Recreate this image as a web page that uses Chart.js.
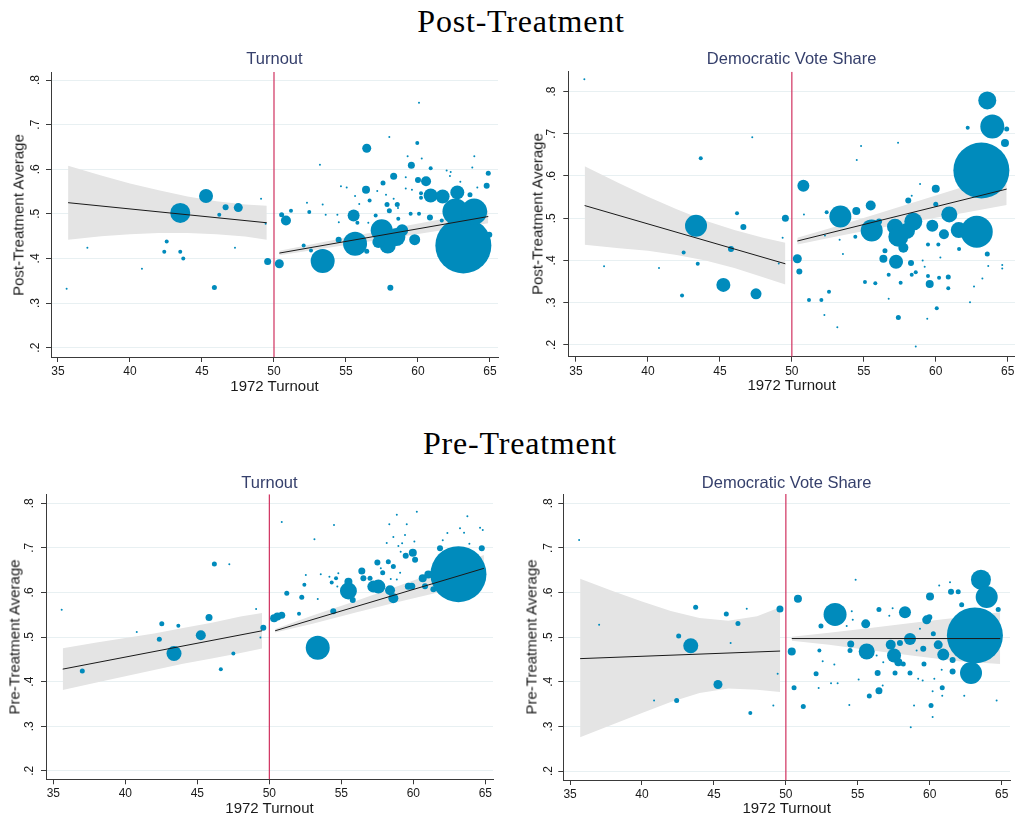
<!DOCTYPE html>
<html><head><meta charset="utf-8">
<script src="https://cdn.jsdelivr.net/npm/chart.js@4.4.1/dist/chart.umd.min.js"></script>
<style>
html,body{margin:0;padding:0;background:#fff}
body{width:1015px;height:818px;position:relative;overflow:hidden;font-family:"Liberation Sans",Arial,sans-serif}
canvas{position:absolute}
.t{position:absolute;white-space:nowrap;transform:translate(-50%,-50%);line-height:1}
.main{font-family:"Liberation Serif","Times New Roman",serif;font-size:32px;color:#000;letter-spacing:0.8px}
.sub{font-size:16.5px;color:#36406c}
.ax{font-size:15px;color:#1a1a1a}
.rot{transform:translate(-50%,-50%) rotate(-90deg)}
</style></head><body>
<script>
// ---------- shared axis data ----------
const xTicks = [35, 40, 45, 50, 55, 60, 65];
const xTickLabels = ['35', '40', '45', '50', '55', '60', '65'];
const yTicks = [0.2, 0.3, 0.4, 0.5, 0.6, 0.7, 0.8];
const yTickLabels = ['.2', '.3', '.4', '.5', '.6', '.7', '.8'];
const cutoff = 50;

// ---------- Post-Treatment : Turnout ----------
const postTurnX = [35.60,37.04,40.83,42.55,42.38,43.49,43.49,43.70,45.28,45.86,46.20,46.64,47.52,47.29,49.10,49.42,49.56,
 50.37,50.53,50.83,51.18,52.06,52.45,52.57,52.29,53.19,53.38,53.38,53.59,54.49,54.40,54.50,54.65,55.05,55.53,55.63,55.79,55.63,55.92,56.39,56.44,56.44,56.55,56.64,57.06,57.17,
 57.48,58.50,57.90,57.25,58.90,
 57.57,57.78,57.85,58.01,58.01,58.08,58.31,58.31,58.56,58.61,58.63,59.15,59.15,59.28,59.54,59.49,59.58,59.77,59.95,60.07,60.00,60.07,60.26,60.21,60.21,60.56,60.88,60.83,60.88,61.71,61.65,61.99,62.27,62.22,62.73,62.94,63.61,63.77,63.91,64.12,63.15,62.60,63.90,64.88,64.77,64.95];
const postTurnY = [0.332,0.424,0.377,0.438,0.415,0.502,0.415,0.400,0.540,0.335,0.498,0.515,0.514,0.424,0.534,0.478,0.393,
 0.388,0.498,0.485,0.507,0.429,0.504,0.418,0.525,0.610,0.394,0.521,0.498,0.442,0.498,0.481,0.562,0.559,0.496,0.433,0.480,0.540,0.522,0.554,0.647,0.416,0.480,0.530,0.496,0.551,
 0.463,0.448,0.429,0.437,0.463,
 0.569,0.543,0.521,0.672,0.507,0.334,0.584,0.534,0.521,0.513,0.489,0.582,0.557,0.629,0.609,0.500,0.554,0.442,0.659,0.749,0.576,0.500,0.624,0.546,0.536,0.573,0.541,0.492,0.602,0.539,0.485,0.597,0.594,0.585,0.548,0.572,0.543,0.604,0.629,0.559,0.429,0.505,0.505,0.591,0.563,0.453];
const postTurnW = [1,1,1,2,2,10,2,2,7,2.5,2,3,4.5,1,1,1,3.5,
 4.5,2.5,5,2,2,2,2,1,1,12,1,1,3,1,1,1,1,6,12,2,1,1,4,4.5,2.5,1,2,2,1,
 11,9,8,6,6,
 2.5,1,2.5,1,2.5,3,3.5,1,2.5,1,2,1,1,1,3.5,2,1,5.5,2,1,3,2,1,2,2,5,7,3,2,7,2,1,1,1,7,1,2.5,1,1,1,28,13,13,2.5,3,3];
const postTurnFitLeftX = [35.7, 49.5], postTurnFitLeftY = [0.525, 0.480];
const postTurnFitRightX = [50.37, 64.88], postTurnFitRightY = [0.412, 0.494];
const postTurnBandLeftX = [35.7, 38, 40, 42, 44, 46, 48, 49.5];
const postTurnBandLeftHi = [0.608, 0.586, 0.568, 0.553, 0.539, 0.528, 0.521, 0.518];
const postTurnBandLeftLo = [0.442, 0.450, 0.454, 0.457, 0.457, 0.454, 0.449, 0.442];
const postTurnBandRightX = [50.37, 53, 56, 59, 62, 64.88];
const postTurnBandRightHi = [0.417, 0.434, 0.453, 0.472, 0.490, 0.508];
const postTurnBandRightLo = [0.407, 0.420, 0.435, 0.450, 0.465, 0.479];

// ---------- Post-Treatment : Democratic Vote Share ----------
const postDemX = [35.58,36.95,40.77,42.37,42.48,43.34,43.46,43.67,45.24,45.77,46.19,46.63,47.25,47.51,49.09,49.36,49.55,
 50.38,50.52,50.80,50.84,51.19,52.05,52.26,52.42,52.30,52.58,53.16,53.37,53.32,53.55,54.48,54.41,54.51,54.81,55.08,55.48,55.55,55.80,56.06,56.47,56.36,56.73,56.73,
 57.17,57.40,58.00,58.44,57.75,57.24,
 57.38,57.40,57.56,58.28,58.09,58.33,58.33,58.61,58.61,58.91,59.09,59.23,59.41,59.46,59.58,59.46,59.76,60.00,60.00,60.07,60.18,60.23,60.32,60.57,60.87,60.87,60.94,61.62,61.60,62.85,62.22,62.38,62.66,63.24,63.17,63.58,63.58,63.93,64.81,64.93,64.62,64.62,63.65];
const postDemY = [0.829,0.386,0.382,0.317,0.419,0.482,0.392,0.642,0.342,0.427,0.512,0.479,0.692,0.321,0.393,0.454,0.500,
 0.404,0.374,0.577,0.509,0.306,0.306,0.271,0.514,0.459,0.326,0.242,0.504,0.449,0.415,0.517,0.456,0.638,0.671,0.349,0.530,0.471,0.346,0.492,0.423,0.404,0.366,0.309,
 0.480,0.456,0.470,0.492,0.430,0.397,
 0.679,0.265,0.347,0.394,0.542,0.553,0.366,0.372,0.196,0.581,0.400,0.385,0.262,0.363,0.344,0.438,0.482,0.570,0.533,0.287,0.438,0.359,0.407,0.462,0.361,0.334,0.509,0.427,0.472,0.468,0.714,0.301,0.338,0.357,0.613,0.415,0.779,0.717,0.678,0.711,0.389,0.381,0.387];
const postDemW = [1,1,1,2,2,11,2,2,7,3,2,3,1,5.5,1,1,3.5,
 4.5,3,6,1,2,2,1,2,1,2,1,11,1,1,4,2,1,1,2,5,11,2,3,2.5,4,2,1,
 8,10,8,9,5,7,
 1,2.5,2,3,3,1,2,2,1,1,1,1,1,2,4,2,6,4,2.5,2,2,2,1,5,2.5,2,8,2,8,16,2,1,1,1,28,2.5,9,12,4,2.5,1,1,1];
const postDemFitLeftX = [35.6, 49.55], postDemFitLeftY = [0.530, 0.392];
const postDemFitRightX = [50.38, 64.93], postDemFitRightY = [0.446, 0.569];
const postDemBandLeftX = [35.6, 38, 40, 42, 44, 46, 48, 49.55];
const postDemBandLeftHi = [0.623, 0.583, 0.551, 0.521, 0.494, 0.472, 0.454, 0.442];
const postDemBandLeftLo = [0.437, 0.429, 0.423, 0.413, 0.400, 0.382, 0.360, 0.343];
const postDemBandRightX = [50.38, 53, 56, 59, 62, 64.93];
const postDemBandRightHi = [0.454, 0.480, 0.511, 0.543, 0.575, 0.607];
const postDemBandRightLo = [0.438, 0.456, 0.476, 0.495, 0.513, 0.531];

// ---------- Pre-Treatment : Turnout ----------
const preTurnX = [35.58,37.01,40.79,42.36,42.53,43.38,43.68,45.24,45.81,46.18,46.63,47.22,47.50,49.08,49.38,49.58,
 50.33,50.56,50.86,50.86,51.21,52.06,52.25,52.43,52.53,53.13,53.36,53.36,53.57,54.17,54.33,54.63,54.79,54.49,54.72,54.44,55.49,55.49,55.79,56.42,56.53,56.99,57.22,57.57,57.50,57.74,57.87,58.26,58.38,58.61,58.61,58.15,58.33,58.61,58.85,58.96,59.12,59.22,59.42,59.47,59.54,59.96,60.07,60.24,60.12,59.08,58.43,58.85,59.65,59.89,60.65,60.81,61.39,61.85,62.04,62.36,63.24,63.52,63.75,63.89,64.63,64.82,64.40,64.75,63.13,61.04];
const preTurnY = [0.561,0.424,0.511,0.495,0.530,0.463,0.525,0.504,0.544,0.664,0.428,0.663,0.463,0.563,0.499,0.521,
 0.542,0.546,0.549,0.758,0.598,0.552,0.589,0.617,0.639,0.719,0.585,0.476,0.641,0.635,0.622,0.632,0.643,0.751,0.613,0.558,0.624,0.603,0.583,0.648,0.632,0.632,0.613,0.613,0.667,0.654,0.644,0.669,0.605,0.658,0.587,0.711,0.753,0.724,0.774,0.704,0.691,0.710,0.729,0.682,0.753,0.689,0.714,0.781,0.673,0.644,0.630,0.629,0.614,0.614,0.632,0.614,0.607,0.699,0.717,0.733,0.744,0.734,0.771,0.709,0.745,0.740,0.682,0.699,0.641,0.640];
const preTurnW = [1,2.5,1,2.5,2.5,7.5,2,5,3.5,2.5,2,1,2,1,1,3,
 4,4,3.5,1,2.5,2,2.5,2,1,1,1,12,1,1,2,2,1,1,1,3,4,8.5,3,3.5,3,2.5,6,7,3,1,2.5,2.5,5,2.5,5,1,1,1,1,1,1,1,1,3,1,4,1,1,3,1,1,1,3.5,3.5,4,3,3,3,1,1,1,1,1,1,1,1,1,3,28,4];
const preTurnFitLeftX = [35.65, 49.5], preTurnFitLeftY = [0.428, 0.514];
const preTurnFitRightX = [50.4, 64.9], preTurnFitRightY = [0.514, 0.654];
const preTurnBandLeftX = [35.65, 38, 40, 42, 44, 46, 48, 49.5];
const preTurnBandLeftHi = [0.475, 0.488, 0.498, 0.508, 0.520, 0.532, 0.546, 0.554];
const preTurnBandLeftLo = [0.381, 0.398, 0.412, 0.426, 0.440, 0.452, 0.464, 0.474];
const preTurnBandRightX = [50.4, 53, 56, 59, 62, 64.9];
const preTurnBandRightHi = [0.518, 0.548, 0.581, 0.615, 0.650, 0.684];
const preTurnBandRightLo = [0.510, 0.530, 0.555, 0.579, 0.602, 0.624];

// ---------- Pre-Treatment : Democratic Vote Share ----------
const preDemX = [35.63,37.02,40.84,42.41,42.55,43.39,43.73,45.28,45.86,46.16,46.67,47.28,47.53,49.13,49.43,49.59,
 50.41,50.57,50.84,51.21,52.10,52.28,52.33,52.44,52.56,53.14,53.37,53.60,53.42,54.41,54.46,54.51,54.58,54.23,54.65,54.85,55.06,55.55,55.62,55.80,56.31,56.38,56.47,56.47,56.77,56.73,57.19,57.42,57.29,57.52,57.82,57.59,57.93,58.28,58.16,58.63,58.63,58.91,58.68,59.09,59.20,59.32,59.55,59.60,59.51,59.79,59.97,60.02,60.09,60.20,60.20,60.25,60.32,60.59,60.87,60.94,60.83,60.87,60.66,61.41,61.48,61.59,61.59,61.98,62.22,62.40,63.14,62.87,63.56,63.96,64.76,64.65];
const preDemY = [0.718,0.528,0.358,0.358,0.503,0.481,0.567,0.394,0.552,0.487,0.531,0.564,0.330,0.347,0.418,0.563,
 0.468,0.387,0.586,0.345,0.418,0.386,0.470,0.525,0.446,0.397,0.439,0.397,0.551,0.348,0.470,0.485,0.558,0.525,0.539,0.629,0.405,0.530,0.468,0.368,0.459,0.420,0.562,0.380,0.444,0.392,0.548,0.565,0.483,0.459,0.444,0.420,0.487,0.556,0.440,0.420,0.496,0.347,0.298,0.470,0.407,0.519,0.474,0.440,0.403,0.539,0.545,0.591,0.347,0.321,0.379,0.508,0.407,0.483,0.387,0.461,0.427,0.369,0.616,0.623,0.602,0.449,0.423,0.602,0.573,0.369,0.504,0.420,0.629,0.590,0.562,0.358];
const preDemW = [1,1,1,2.5,2.5,7.5,2.5,4.5,2.5,1,2.5,1,2,1,1,3.5,
 4,2.5,4,2.5,2.5,1,2,2.5,1,1,1,1,11.5,1,2.5,3.5,1,1,1,1,1,4.5,8,2.5,1,3,2.5,3.5,1,1,1,1,5,7,4,2.5,3,6,2.5,2.5,6,1,1,1,1,1,3,2.5,1,4.5,3,4,2.5,1,1,2.5,1,4.5,2.5,6,1,1,1,1,3,3,3,2.5,2.5,1,28,11,10,11,2.5,1];
const preDemFitLeftX = [35.7, 49.6], preDemFitLeftY = [0.452, 0.469];
const preDemFitRightX = [50.41, 64.9], preDemFitRightY = [0.497, 0.497];
const preDemBandLeftX = [35.7, 38, 40, 42, 44, 46, 48, 49.6];
const preDemBandLeftHi = [0.631, 0.603, 0.580, 0.559, 0.543, 0.537, 0.547, 0.567];
const preDemBandLeftLo = [0.276, 0.305, 0.330, 0.355, 0.375, 0.385, 0.382, 0.377];
const preDemBandRightX = [50.41, 53, 56, 59, 62, 64.9];
const preDemBandRightHi = [0.501, 0.510, 0.521, 0.533, 0.544, 0.556];
const preDemBandRightLo = [0.492, 0.483, 0.470, 0.458, 0.446, 0.440];

// ---------- layout (positions only) ----------
const panels = [
  {box:[0,66,506,318], area:[51,72,498,357], xr:[34.514,65.556], yr:[0.179,0.818], tickOff:15,
   sub:'Turnout', ytitle:'Post-Treatment Average', subY:58, xtY:385, ytX:18,
   X:postTurnX, Y:postTurnY, W:postTurnW,
   fits:[[postTurnFitLeftX,postTurnFitLeftY],[postTurnFitRightX,postTurnFitRightY]],
   bands:[[postTurnBandLeftX,postTurnBandLeftHi,postTurnBandLeftLo],[postTurnBandRightX,postTurnBandRightHi,postTurnBandRightLo]]},
  {box:[510,66,505,318], area:[568.3,71.7,1015,356.7], xr:[34.465,65.507], yr:[0.172,0.847], tickOff:16.5,
   sub:'Democratic Vote Share', ytitle:'Post-Treatment Average', subY:58, xtY:384, ytX:536.7,
   X:postDemX, Y:postDemY, W:postDemW,
   fits:[[postDemFitLeftX,postDemFitLeftY],[postDemFitRightX,postDemFitRightY]],
   bands:[[postDemBandLeftX,postDemBandLeftHi,postDemBandLeftLo],[postDemBandRightX,postDemBandRightHi,postDemBandRightLo]]},
  {box:[0,488,501,330], area:[46,494.3,493,779.3], xr:[34.49,65.53], yr:[0.181,0.820], tickOff:16,
   sub:'Turnout', ytitle:'Pre-Treatment Average', subY:482, xtY:806.5, ytX:14,
   X:preTurnX, Y:preTurnY, W:preTurnW,
   fits:[[preTurnFitLeftX,preTurnFitLeftY],[preTurnFitRightX,preTurnFitRightY]],
   bands:[[preTurnBandLeftX,preTurnBandLeftHi,preTurnBandLeftLo],[preTurnBandRightX,preTurnBandRightHi,preTurnBandRightLo]]},
  {box:[505,488,510,330], area:[563.3,494,1010,780], xr:[34.53,65.58], yr:[0.180,0.821], tickOff:15,
   sub:'Democratic Vote Share', ytitle:'Pre-Treatment Average', subY:482, xtY:806.5, ytX:530.7,
   X:preDemX, Y:preDemY, W:preDemW,
   fits:[[preDemFitLeftX,preDemFitLeftY],[preDemFitRightX,preDemFitRightY]],
   bands:[[preDemBandLeftX,preDemBandLeftHi,preDemBandLeftLo],[preDemBandRightX,preDemBandRightHi,preDemBandRightLo]]}
];

const MARKER = '#008bbc', BAND = '#e4e4e4', FIT = '#1a1a1a', CUT = '#d0315f';
const GRID = '#e8f0f2', AXIS = '#3a3a3a', TXT = '#1a1a1a';

function addText(txt, cls, x, y) {
  const d = document.createElement('div');
  d.className = 't ' + cls;
  d.textContent = txt;
  d.style.left = x + 'px';
  d.style.top = y + 'px';
  document.body.appendChild(d);
}

addText('Post-Treatment', 'main', 521, 21);
addText('Pre-Treatment', 'main', 520, 443);

const tickLabelPlugin = {
  id: 'tickLabelPlugin',
  afterDraw(chart) {
    const {ctx, chartArea, scales} = chart;
    const off = chart.options.plugins.tickLabelPlugin.off;
    ctx.save();
    ctx.fillStyle = TXT;
    ctx.font = '12px "Liberation Sans", Arial, sans-serif';
    ctx.textAlign = 'center';
    ctx.textBaseline = 'middle';
    scales.x.ticks.forEach((t, i) => {
      ctx.fillText(xTickLabels[i], scales.x.getPixelForValue(t.value), chartArea.bottom + 14.5);
    });
    scales.y.ticks.forEach((t, i) => {
      const py = scales.y.getPixelForValue(t.value);
      ctx.save();
      ctx.translate(chartArea.left - off, py);
      ctx.rotate(-Math.PI / 2);
      ctx.fillText(yTickLabels[i], 0, 0);
      ctx.restore();
    });
    ctx.restore();
  }
};

panels.forEach(p => {
  const [cl, ct, cw, ch] = p.box;
  const [al, at, ar, ab] = p.area;
  const cv = document.createElement('canvas');
  cv.width = cw; cv.height = ch;
  cv.style.left = cl + 'px'; cv.style.top = ct + 'px';
  cv.style.width = cw + 'px'; cv.style.height = ch + 'px';
  document.body.appendChild(cv);

  const datasets = [];
  p.fits.forEach(f => datasets.push({
    type: 'line', data: f[0].map((x, i) => ({x, y: f[1][i]})),
    borderColor: FIT, borderWidth: 1, pointRadius: 0, fill: false, order: 0
  }));
  datasets.push({
    type: 'bubble', data: p.X.map((x, i) => ({x, y: p.Y[i], r: p.W[i]})),
    backgroundColor: MARKER, borderColor: MARKER, borderWidth: 0, order: 1, clip: 30
  });
  datasets.push({
    type: 'line', data: [{x: cutoff, y: p.yr[0]}, {x: cutoff, y: p.yr[1]}],
    borderColor: CUT, borderWidth: 1.2, pointRadius: 0, fill: false, order: 2
  });
  p.bands.forEach(b => {
    datasets.push({
      type: 'line', data: b[0].map((x, i) => ({x, y: b[1][i]})),
      borderWidth: 0, borderColor: 'rgba(0,0,0,0)', pointRadius: 0, fill: '+1', backgroundColor: BAND, order: 3
    });
    datasets.push({
      type: 'line', data: b[0].map((x, i) => ({x, y: b[2][i]})),
      borderWidth: 0, borderColor: 'rgba(0,0,0,0)', pointRadius: 0, fill: false, order: 3
    });
  });

  new Chart(cv, {
    type: 'scatter',
    data: {datasets},
    options: {
      responsive: false, animation: false, devicePixelRatio: 1, events: [],
      layout: {autoPadding: false, padding: {left: 0, top: at - ct, right: (cl + cw) - ar, bottom: 0}},
      plugins: {legend: {display: false}, tooltip: {enabled: false}, title: {display: false},
        filler: {drawTime: 'beforeDatasetsDraw'}, tickLabelPlugin: {off: p.tickOff}},
      scales: {
        x: {
          type: 'linear', min: p.xr[0], max: p.xr[1],
          afterBuildTicks: s => { s.ticks = xTicks.map(v => ({value: v})); },
          afterFit: s => { s.height = (ct + ch) - ab; },
          ticks: {display: false},
          grid: {display: true, drawOnChartArea: false, drawTicks: true, tickLength: 5, tickColor: AXIS, tickWidth: 1},
          border: {display: true, color: AXIS, width: 1}
        },
        y: {
          type: 'linear', min: p.yr[0], max: p.yr[1],
          afterBuildTicks: s => { s.ticks = yTicks.map(v => ({value: v})); },
          afterFit: s => { s.width = al - cl; },
          ticks: {display: false},
          grid: {display: true, drawOnChartArea: true, color: GRID, lineWidth: 1, drawTicks: true, tickLength: 5, tickColor: AXIS, tickWidth: 1},
          border: {display: true, color: AXIS, width: 1}
        }
      }
    },
    plugins: [tickLabelPlugin]
  });

  const cx = (al + ar) / 2;
  addText(p.sub, 'sub', cx, p.subY);
  addText('1972 Turnout', 'ax', cx, p.xtY);
  addText(p.ytitle, 'ax rot', p.ytX, (at + ab) / 2);
});
</script>
</body></html>
